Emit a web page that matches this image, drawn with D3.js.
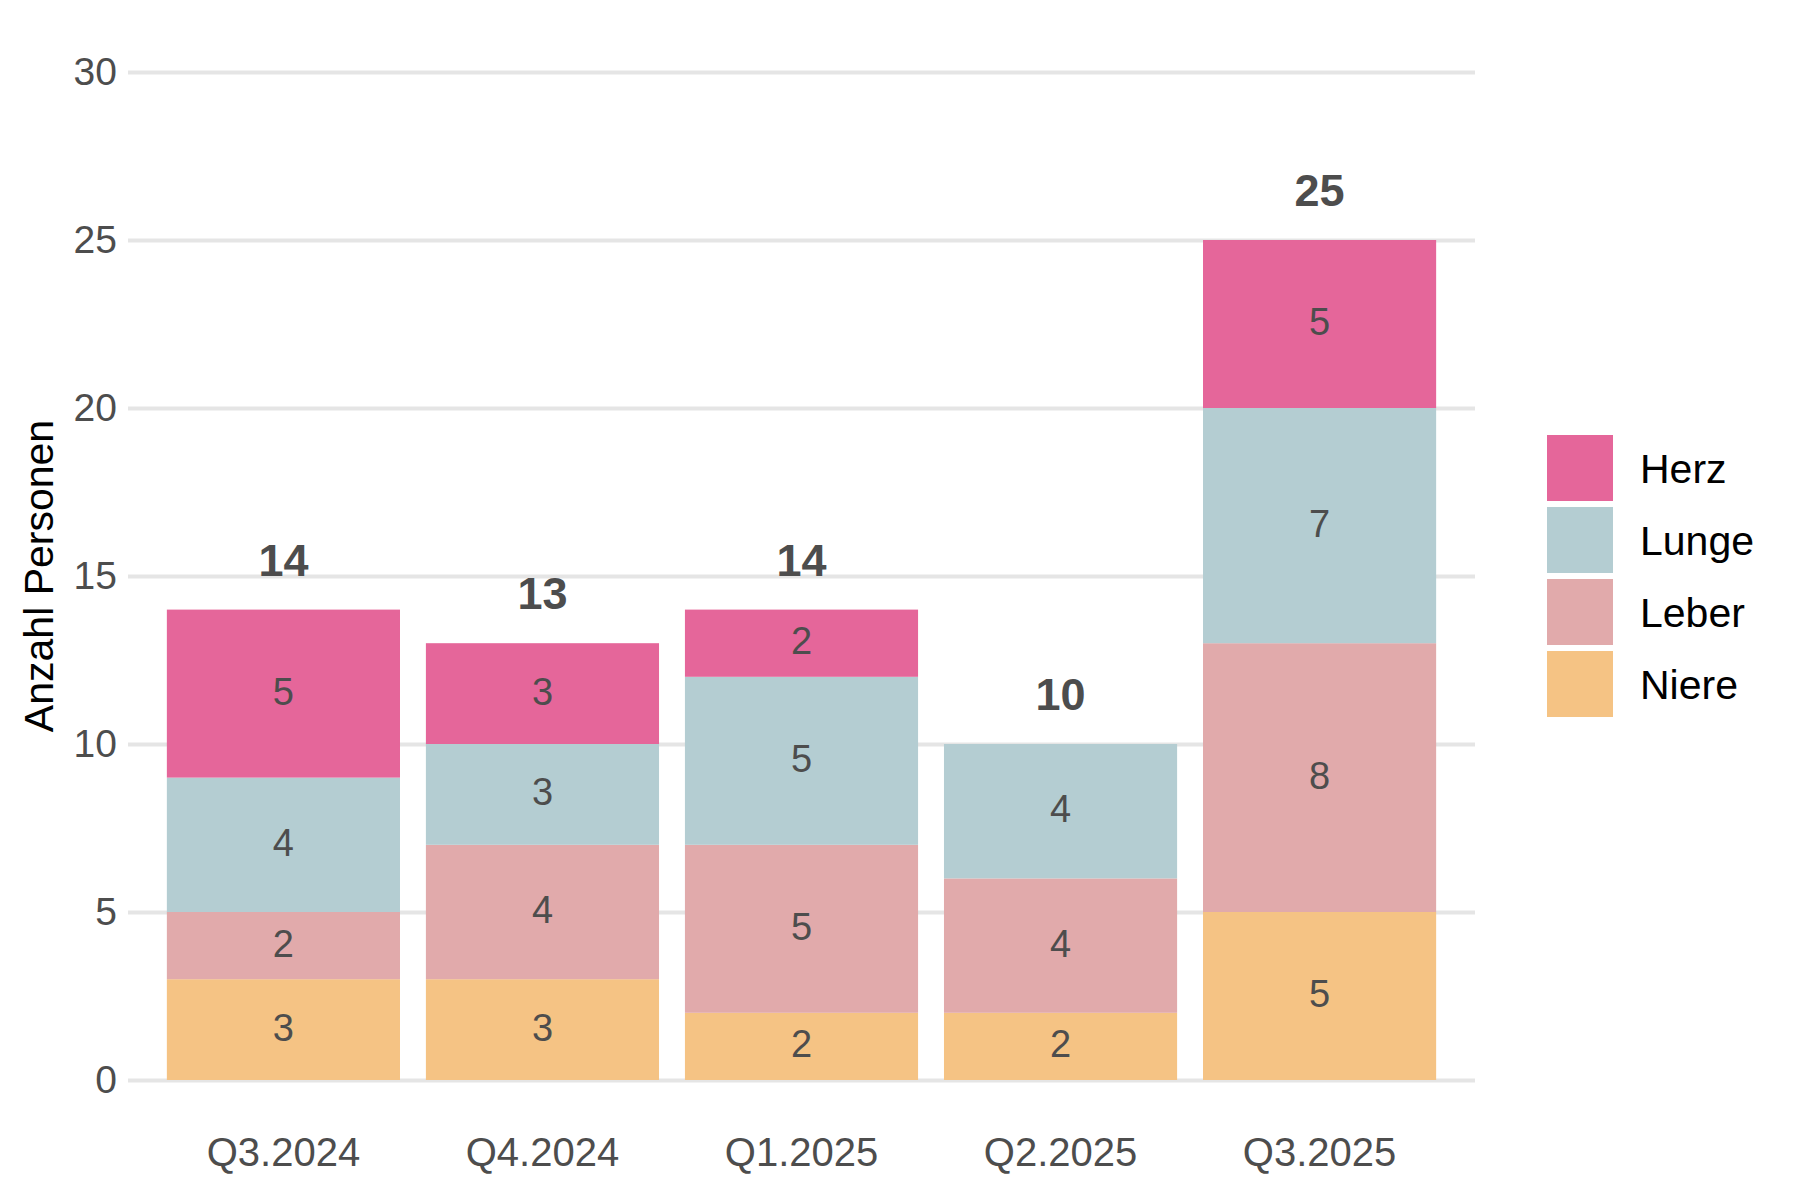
<!DOCTYPE html>
<html>
<head>
    <meta charset="utf-8">
    <title>Anzahl Personen</title>
    <script src="https://d3js.org/d3.v7.min.js"></script>
    <style>
        body {
            margin: 0;
            background: #fff;
            font-family: "Liberation Sans", Arial, sans-serif;
        }
    </style>
</head>
<body>
    <div id="chart"></div>
    <script>
        // data
        const quarters = ["Q3.2024", "Q4.2024", "Q1.2025", "Q2.2025", "Q3.2025"]
        const organs = ["Niere", "Leber", "Lunge", "Herz"]   // stack order, bottom to top
        const niere = [3, 3, 2, 2, 5]
        const leber = [2, 4, 5, 4, 8]
        const lunge = [4, 3, 5, 4, 7]
        const herz = [5, 3, 2, 0, 5]
        const yTicks = [0, 5, 10, 15, 20, 25, 30]
        const legendOrder = ["Herz", "Lunge", "Leber", "Niere"]

        const colors = {
            Niere: "#F5C384",
            Leber: "#E1AAAB",
            Lunge: "#B4CDD2",
            Herz: "#E5669A"
        }

        const w = 1800
        const h = 1200
        const margin = { top: 72, right: 325, bottom: 120, left: 128 }

        const rows = quarters.map((q, i) => ({
            quarter: q,
            Niere: niere[i],
            Leber: leber[i],
            Lunge: lunge[i],
            Herz: herz[i]
        }))
        const totals = rows.map(d => ({ quarter: d.quarter, total: d.Niere + d.Leber + d.Lunge + d.Herz }))

        const stack = d3.stack().keys(organs)(rows)

        const xScale = d3.scaleBand()
            .domain(quarters)
            .range([margin.left, w - margin.right])
            .paddingInner(0.1)
            .paddingOuter(0.15)

        const yScale = d3.scaleLinear()
            .domain([0, 30])
            .range([h - margin.bottom, margin.top])

        const svg = d3.select("#chart")
            .append("svg")
            .attr("width", w)
            .attr("height", h)

        // horizontal grid
        svg.append("g")
            .attr("class", "grid")
            .attr("transform", "translate(" + margin.left + ",0)")
            .call(d3.axisLeft(yScale).tickValues(yTicks).tickSize(-(w - margin.right - margin.left)).tickFormat(""))
            .call(g => g.select(".domain").remove())
            .call(g => g.selectAll("line").attr("stroke", "#E5E5E5").attr("stroke-width", 4))

        // bars
        svg.append("g")
            .selectAll("g")
            .data(stack)
            .join("g")
            .attr("fill", d => colors[d.key])
            .selectAll("rect")
            .data(d => d)
            .join("rect")
            .attr("x", d => xScale(d.data.quarter))
            .attr("y", d => yScale(d[1]))
            .attr("width", xScale.bandwidth())
            .attr("height", d => yScale(d[0]) - yScale(d[1]))

        // segment labels
        svg.append("g")
            .selectAll("g")
            .data(stack)
            .join("g")
            .selectAll("text")
            .data(d => d.filter(s => s[1] - s[0] > 0))
            .join("text")
            .attr("x", d => xScale(d.data.quarter) + xScale.bandwidth() / 2)
            .attr("y", d => yScale((d[0] + d[1]) / 2))
            .attr("dy", "0.29em")
            .attr("text-anchor", "middle")
            .attr("font-size", 38)
            .attr("fill", "#4D4D4D")
            .text(d => d[1] - d[0])

        // totals
        svg.append("g")
            .selectAll("text")
            .data(totals)
            .join("text")
            .attr("x", d => xScale(d.quarter) + xScale.bandwidth() / 2)
            .attr("y", d => yScale(d.total) - 34)
            .attr("text-anchor", "middle")
            .attr("font-size", 45)
            .attr("font-weight", "bold")
            .attr("fill", "#4D4D4D")
            .text(d => d.total)

        // y axis
        svg.append("g")
            .attr("transform", "translate(" + margin.left + ",0)")
            .call(d3.axisLeft(yScale).tickValues(yTicks).tickSize(0).tickPadding(11))
            .call(g => g.select(".domain").remove())
            .call(g => g.selectAll("text")
                .attr("font-size", 39)
                .attr("font-family", "'Liberation Sans', Arial, sans-serif")
                .attr("fill", "#4D4D4D"))

        // x axis
        svg.append("g")
            .attr("transform", "translate(0," + (h - margin.bottom) + ")")
            .call(d3.axisBottom(xScale).tickSize(0).tickPadding(58))
            .call(g => g.select(".domain").remove())
            .call(g => g.selectAll("text")
                .attr("font-size", 40)
                .attr("font-family", "'Liberation Sans', Arial, sans-serif")
                .attr("fill", "#4D4D4D"))

        svg.append("text")
            .attr("transform", "translate(53,576) rotate(-90)")
            .attr("text-anchor", "middle")
            .attr("font-size", 41)
            .attr("fill", "#000")
            .text("Anzahl Personen")

        // legend
        const keySize = 66
        const legend = svg.append("g")
            .attr("transform", "translate(1547,435)")

        const item = legend.selectAll("g")
            .data(legendOrder)
            .join("g")
            .attr("transform", (d, i) => "translate(0," + i * (keySize + 6) + ")")

        item.append("rect")
            .attr("width", keySize)
            .attr("height", keySize)
            .attr("fill", d => colors[d])

        item.append("text")
            .attr("x", 93)
            .attr("y", keySize / 2)
            .attr("dy", "0.36em")
            .attr("font-size", 41)
            .attr("fill", "#000")
            .text(d => d)
    </script>
</body>
</html>
